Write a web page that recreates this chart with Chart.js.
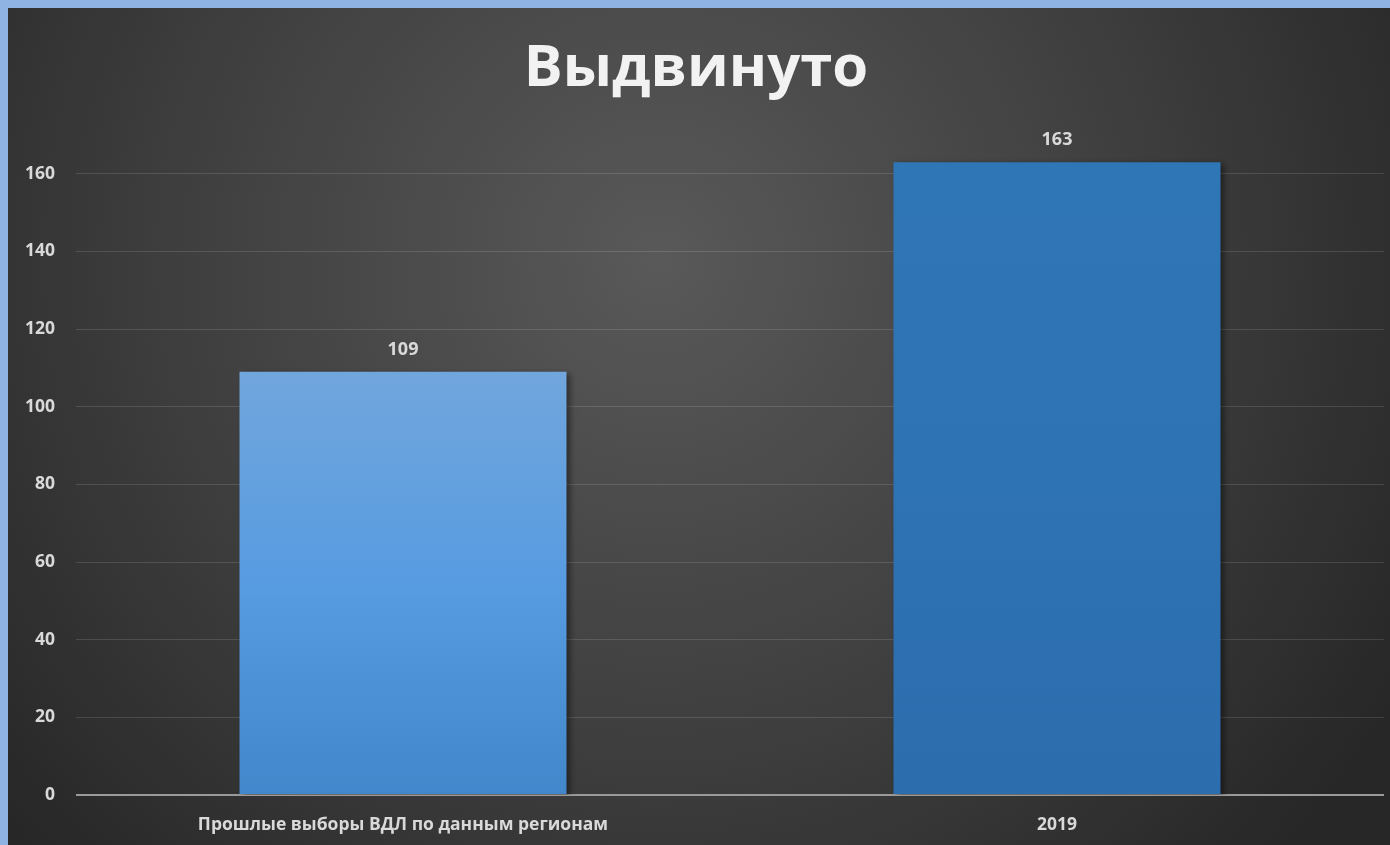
<!DOCTYPE html>
<html>
<head>
<meta charset="utf-8">
<script src="https://cdn.jsdelivr.net/npm/chart.js@4.4.1/dist/chart.umd.min.js"></script>
<style>
  html, body { margin: 0; padding: 0; background: #8fb4e3; overflow: hidden; }
  #wrap { position: absolute; left: 8px; top: 8px; width: 1382px; height: 837px; }
</style>
</head>
<body>
<div id="wrap"><canvas id="c"></canvas></div>
<script>
const titleText = 'Выдвинуто';
const categories = ['Прошлые выборы ВДЛ по данным регионам', '2019'];
const values = [109, 163];
const yTicks = [0, 20, 40, 60, 80, 100, 120, 140, 160];

const barGradients = [
  ['#71a6dd', '#579be0', '#4287ca'],
  ['#2f76b7', '#2e73b4', '#2c6dad']
];

const bgPlugin = {
  id: 'bg',
  beforeDraw(chart) {
    const { ctx, width, height } = chart;
    ctx.save();
    const g = ctx.createRadialGradient(width * 0.47, height * 0.3, 0, width * 0.47, height * 0.3, width * 0.62);
    g.addColorStop(0, '#595959');
    g.addColorStop(0.55, '#3f3f3f');
    g.addColorStop(1, '#272727');
    ctx.fillStyle = g;
    ctx.fillRect(0, 0, width, height);
    ctx.restore();
  }
};

const labelPlugin = {
  id: 'valueLabels',
  afterDatasetsDraw(chart) {
    const { ctx } = chart;
    const meta = chart.getDatasetMeta(0);
    ctx.save();
    ctx.fillStyle = '#d9d9d9';
    ctx.font = 'bold 18px "Open Sans"';
    ctx.textAlign = 'center';
    ctx.textBaseline = 'middle';
    meta.data.forEach((bar, i) => {
      ctx.fillText(String(values[i]), bar.x, bar.y - 22);
    });
    ctx.restore();
  }
};

const shadowPlugin = {
  id: 'barShadow',
  beforeDatasetsDraw(chart) {
    const ctx = chart.ctx;
    ctx.save();
    ctx.shadowColor = 'rgba(0,0,0,0.45)';
    ctx.shadowBlur = 6;
    ctx.shadowOffsetX = 3;
    ctx.shadowOffsetY = 2;
  },
  afterDatasetsDraw(chart) {
    chart.ctx.restore();
  }
};

new Chart(document.getElementById('c'), {
  type: 'bar',
  data: {
    labels: categories,
    datasets: [{
      data: values,
      backgroundColor(ctx) {
        const area = ctx.chart.chartArea;
        const c = barGradients[ctx.dataIndex];
        if (!area || !ctx.chart.scales.y) return c[0];
        const top = ctx.chart.scales.y.getPixelForValue(values[ctx.dataIndex]);
        const g = ctx.chart.ctx.createLinearGradient(0, top, 0, area.bottom);
        g.addColorStop(0, c[0]);
        g.addColorStop(0.5, c[1]);
        g.addColorStop(1, c[2]);
        return g;
      },
      borderWidth: 0,
      barPercentage: 0.5,
      categoryPercentage: 1.0
    }]
  },
  options: {
    responsive: true,
    maintainAspectRatio: false,
    animation: false,
    layout: { padding: { left: 0, right: 6, top: 0, bottom: 0 } },
    plugins: {
      legend: { display: false },
      tooltip: { enabled: false },
      title: {
        display: true,
        text: titleText,
        color: '#f2f2f2',
        font: { family: 'Open Sans', weight: 'bold', size: 58, lineHeight: 1 },
        padding: { top: 32, bottom: 37 }
      }
    },
    scales: {
      x: {
        grid: { display: false, drawTicks: false },
        border: { display: false },
        ticks: {
          color: '#d9d9d9',
          font: { family: 'Open Sans', weight: 'bold', size: 17.5 },
          padding: 20,
          maxRotation: 0
        },
        afterFit(s) { s.height = 50; }
      },
      y: {
        min: 0,
        max: 170,
        afterBuildTicks(s) { s.ticks = yTicks.map(v => ({ value: v })); },
        grid: {
          color(ctx) { return ctx.tick && ctx.tick.value === 0 ? '#9a9a9a' : 'rgba(255,255,255,0.13)'; },
          lineWidth(ctx) { return ctx.tick && ctx.tick.value === 0 ? 2 : 1; },
          drawTicks: false
        },
        border: { display: false },
        ticks: {
          color: '#d9d9d9',
          font: { family: 'Open Sans', weight: 'bold', size: 17.5 },
          padding: 21
        },
        afterFit(s) { s.width = 68; }
      }
    }
  },
  plugins: [bgPlugin, shadowPlugin, labelPlugin]
});
</script>
</body>
</html>
